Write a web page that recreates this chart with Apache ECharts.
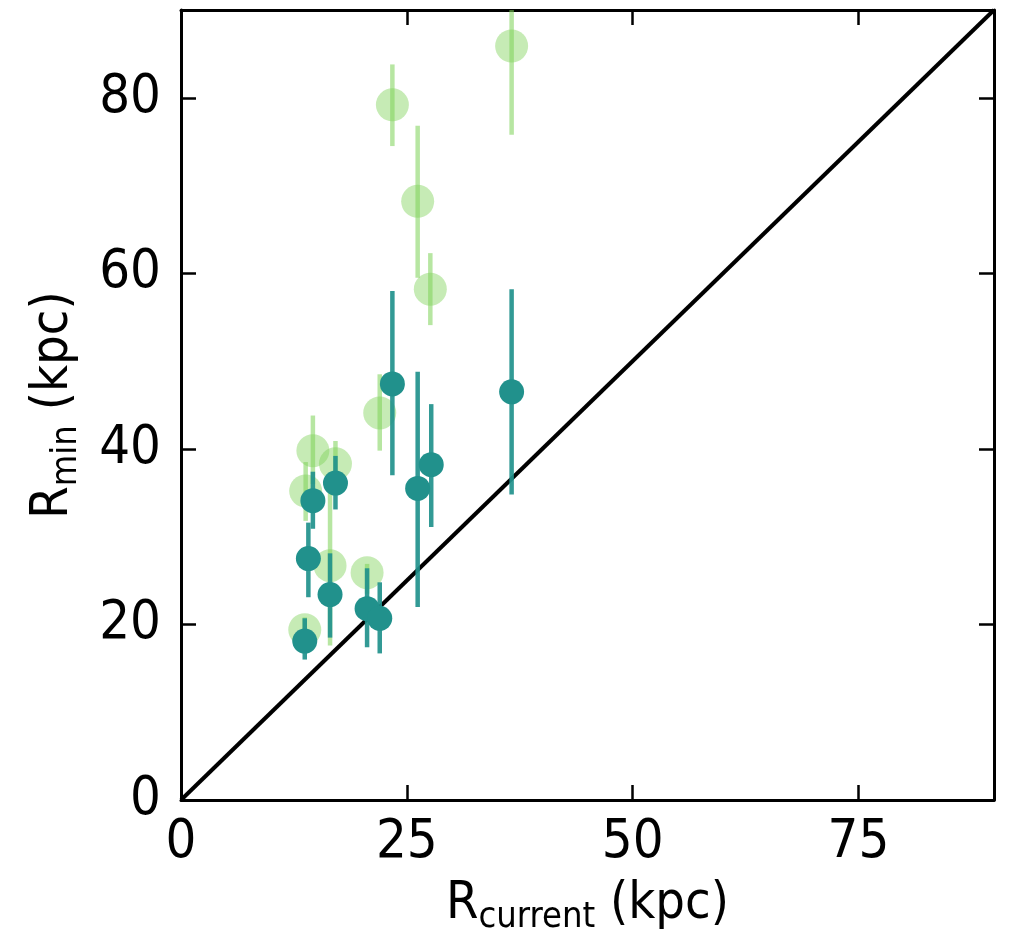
<!DOCTYPE html>
<html>
<head>
<meta charset="utf-8">
<script src="https://cdn.jsdelivr.net/npm/echarts@6/dist/echarts.min.js"></script>
<style>html,body{margin:0;padding:0;background:#fff}#c{width:1013px;height:949px}</style>
</head>
<body>
<div id="c"></div>
<script>
// R_current (kpc), R_min (kpc) and error ranges
var xDark   = [13.7, 14.1, 14.6, 16.5, 17.1, 20.6, 22.0, 23.4, 26.2, 27.7, 36.6];
var yDark   = [18.1, 27.5, 34.1, 23.4, 36.1, 21.8, 20.7, 47.4, 35.5, 38.2, 46.5];
var darkLo  = [16.0, 23.1, 30.9, 18.5, 33.1, 17.4, 16.7, 37.0, 22.0, 31.1, 34.8];
var darkHi  = [20.7, 31.6, 37.4, 28.1, 39.2, 26.4, 24.8, 58.0, 48.8, 45.1, 58.2];

var xLight  = [13.7, 13.8, 14.6, 16.5, 17.1, 20.6, 22.0, 23.4, 26.2, 27.6, 36.6];
var yLight  = [19.4, 35.2, 39.8, 26.7, 38.3, 25.9, 44.1, 79.2, 68.2, 58.2, 85.9];
var lightLo = [17.5, 31.8, 36.0, 17.6, 35.5, 23.5, 39.8, 74.5, 59.5, 54.1, 75.8];
var lightHi = [20.8, 38.5, 43.8, 36.0, 40.9, 26.9, 48.5, 83.8, 76.8, 62.3, 95.0];

var xTicks = [0, 25, 50, 75];
var yTicks = [0, 20, 40, 60, 80];
var oneToOne = [[0, 0], [90, 90]];

var FONT = "'DejaVu Sans Condensed', 'DejaVu Sans', sans-serif";
var LIGHT = 'rgba(127,211,90,0.56)';
var DARK = '#21918c';

function pts(xs, ys) { return xs.map(function (x, i) { return [x, ys[i]]; }); }
function bars(xs, lo, hi) { return xs.map(function (x, i) { return [x, lo[i], hi[i]]; }); }

function errRender(color, w) {
  return function (params, api) {
    var a = api.coord([api.value(0), api.value(1)]);
    var b = api.coord([api.value(0), api.value(2)]);
    return {
      type: 'line',
      shape: { x1: a[0], y1: a[1], x2: b[0], y2: b[1] },
      style: { stroke: color, lineWidth: w }
    };
  };
}

var tickStyle = { show: true, inside: true, length: 15, lineStyle: { color: '#000', width: 2.5 } };
var lineStyle = { show: true, onZero: false, lineStyle: { color: '#000', width: 3 } };

var rich = {
  a: { fontFamily: FONT, fontSize: 52, color: '#000', lineHeight: 64, verticalAlign: 'middle' },
  s: { fontFamily: FONT, fontSize: 36, color: '#000', lineHeight: 36, verticalAlign: 'bottom' }
};

var option = {
  animation: false,
  backgroundColor: '#fff',
  grid: { left: 181, right: 19, top: 10, bottom: 149, containLabel: false },
  xAxis: [{
    type: 'value', min: 0, max: 90, interval: 25,
    position: 'bottom',
    axisLine: lineStyle, splitLine: { show: false },
    axisLabel: {
      margin: 16, fontFamily: FONT, fontSize: 54, color: '#000',
      customValues: xTicks
    },
    axisTick: Object.assign({ customValues: xTicks }, tickStyle),
    name: '{a|R}{s|current}{a| (kpc)}',
    nameLocation: 'middle', nameGap: 72,
    nameTextStyle: { rich: rich }
  }, {
    type: 'value', min: 0, max: 90, interval: 25,
    position: 'top',
    axisLine: lineStyle, splitLine: { show: false },
    axisLabel: { show: false },
    axisTick: Object.assign({ customValues: xTicks }, tickStyle)
  }],
  yAxis: [{
    type: 'value', min: 0, max: 90, interval: 20,
    position: 'left',
    axisLine: lineStyle, splitLine: { show: false },
    axisLabel: {
      margin: 20, fontFamily: FONT, fontSize: 54, color: '#000',
      customValues: yTicks
    },
    axisTick: Object.assign({ customValues: yTicks }, tickStyle),
    name: '{a|R}{s|min}{a| (kpc)}',
    nameLocation: 'middle', nameGap: 96, nameRotate: 90,
    nameTextStyle: { rich: rich }
  }, {
    type: 'value', min: 0, max: 90, interval: 20,
    position: 'right',
    axisLine: lineStyle, splitLine: { show: false },
    axisLabel: { show: false },
    axisTick: Object.assign({ customValues: yTicks }, tickStyle)
  }],
  series: [
    {
      type: 'line', data: oneToOne, symbol: 'none', z: 1,
      lineStyle: { color: '#000', width: 4 }
    },
    {
      type: 'custom', renderItem: errRender(LIGHT, 4.5), data: bars(xLight, lightLo, lightHi),
      clip: true, z: 2
    },
    {
      type: 'scatter', data: pts(xLight, yLight), symbolSize: 33, z: 3,
      itemStyle: { color: LIGHT }
    },
    {
      type: 'custom', renderItem: errRender('rgba(33,145,140,0.92)', 4.5), data: bars(xDark, darkLo, darkHi),
      clip: true, z: 4
    },
    {
      type: 'scatter', data: pts(xDark, yDark), symbolSize: 25, z: 5,
      itemStyle: { color: DARK, opacity: 1 }
    }
  ]
};

var chart = echarts.init(document.getElementById('c'), null, { renderer: 'canvas' });
chart.setOption(option);
</script>
</body>
</html>
